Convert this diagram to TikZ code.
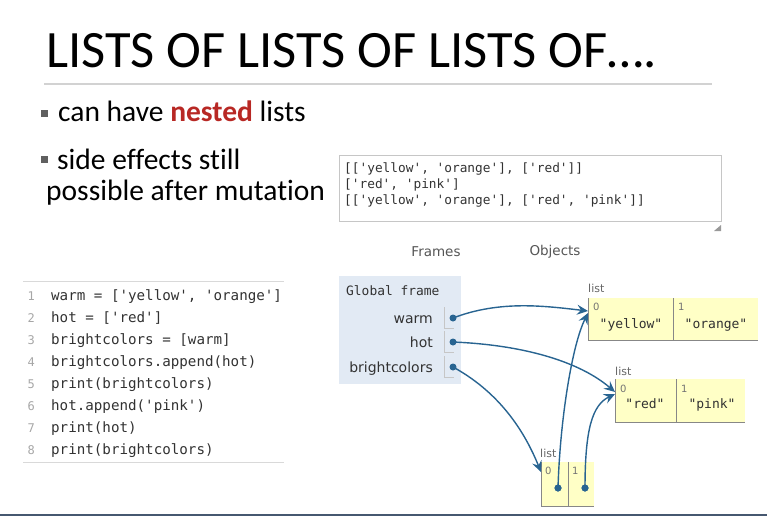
\documentclass[tikz,border=0pt]{standalone}
\usepackage{fontspec}
\setmainfont[Ligatures=NoCommon]{Carlito}
\newfontfamily\codefont{DejaVu Sans Mono}
\newfontfamily\verd{DejaVu Sans}
\usetikzlibrary{arrows.meta}
\definecolor{nestedred}{RGB}{184,40,36}
\definecolor{framebg}{RGB}{226,234,244}
\definecolor{cellbg}{RGB}{255,255,198}
\definecolor{cellline}{RGB}{135,135,135}
\definecolor{ptr}{RGB}{40,100,145}
\definecolor{bottomblue}{RGB}{70,88,112}
\definecolor{codegray}{RGB}{50,50,50}
\definecolor{headgray}{RGB}{85,85,85}
\tikzset{
  txt/.style={inner sep=0pt, anchor=base west},
  bigtxt/.style={txt, font=\fontsize{29.5}{30}\selectfont},
  outtxt/.style={txt, font=\codefont\fontsize{12.8}{16}\selectfont, text=codegray},
  codetxt/.style={txt, font=\codefont\fontsize{14.2}{18}\selectfont, text=codegray},
  lnum/.style={inner sep=0pt, anchor=base east, font=\codefont\fontsize{12}{14}\selectfont, text=gray!70},
  varname/.style={inner sep=0pt, anchor=base east, font=\verd\fontsize{14}{16}\selectfont, text=codegray},
  headtxt/.style={inner sep=0pt, font=\verd\fontsize{13.5}{16}\selectfont, text=headgray},
  cell/.style={fill=cellbg, inner sep=0pt, anchor=north west},
  idx/.style={inner sep=0pt, anchor=base west, font=\verd\fontsize{10}{12}\selectfont, text=gray!110},
  listlbl/.style={inner sep=0pt, anchor=base west, font=\verd\fontsize{11}{12}\selectfont, text=gray!120},
  val/.style={inner sep=0pt, anchor=base, font=\codefont\fontsize{13}{15}\selectfont, text=codegray},
  cellborder/.style={draw=cellline, line width=0.9pt},
  dotstyle/.style={circle, fill=ptr, inner sep=0pt, minimum size=7pt},
  ptrarrow/.style={draw=ptr, line width=1.4pt, -{Stealth[length=11pt,width=10pt,inset=4pt]}},
  sep/.style={draw=gray!45, line width=0.8pt},
  bulletsq/.style={fill=gray!75!black, inner sep=0pt, minimum size=7pt}
}
\begin{document}
\begin{tikzpicture}[x=1pt,y=-1pt]
\useasboundingbox (0,0) rectangle (767,517);

% Title
\node[txt, font=\fontsize{52.5}{53}\selectfont] (title) at (46,67) {LISTS OF LISTS OF LISTS OF….};
\draw[gray!35, line width=1.5pt] (44,84) -- (712,84);

% Bullets
\node[bulletsq] (b1) at (44,113) {};
\node[bigtxt] (t1) at (58,121) {can have \textbf{\color{nestedred}nested} lists};
\node[bulletsq] (b2) at (44,159) {};
\node[bigtxt] (t2) at (57,169) {side effects still};
\node[bigtxt] (t3) at (46,200) {possible after mutation};

% Output box
\node[draw=gray!45, line width=1pt, anchor=north west, inner sep=0pt,
      minimum width=382pt, minimum height=66pt] (out) at (339,155) {};
\node[outtxt] (o1) at (344,172) {[['yellow', 'orange'], ['red']]};
\node[outtxt] (o2) at (344,188) {['red', 'pink']};
\node[outtxt] (o3) at (344,204) {[['yellow', 'orange'], ['red', 'pink']]};
\fill[gray!80] (721,225) -- (721,231) -- (714,231) -- cycle;

% Headings
\node[headtxt] (frames) at (436,252) {Frames};
\node[headtxt] (objects) at (555,252) {Objects};

% Code listing
\draw[gray!30, line width=0.8pt] (23,281) -- (284,281);
\draw[gray!30, line width=0.8pt] (23,462) -- (284,462);
\foreach \i/\code in {1/{warm = ['yellow', 'orange']},
                      2/{hot = ['red']},
                      3/{brightcolors = [warm]},
                      4/{brightcolors.append(hot)},
                      5/{print(brightcolors)},
                      6/{hot.append('pink')},
                      7/{print(hot)},
                      8/{print(brightcolors)}}{
  \node[lnum] (n\i) at (35,{300+22.1*(\i-1)}) {\i};
  \node[codetxt] (c\i) at (51,{300+22.1*(\i-1)}) {\code};
}

% Global frame
\node[fill=framebg, anchor=north west, inner sep=0pt, minimum width=122pt, minimum height=108pt] (gf) at (339,276) {};
\node[txt, font=\codefont\fontsize{12.9}{15}\selectfont, text=codegray] (gft) at (346,295) {Global frame};
\node[varname] (vwarm) at (433,323) {warm};
\node[varname] (vhot) at (433,347) {hot};
\node[varname] (vbc) at (433,372) {brightcolors};
\foreach \y in {318,342,367}{
  \draw[sep] (444,\y-11) -- (444,\y+10) -- (454,\y+10);
}
\node[dotstyle] (dwarm) at (453,318) {};
\node[dotstyle] (dhot) at (453,342) {};
\node[dotstyle] (dbc) at (453,367) {};

% List 1: yellow / orange
\node[listlbl] (lab1) at (588,292) {list};
\node[cell, minimum width=85pt, minimum height=42pt] (l1a) at (588,298) {};
\node[cell, minimum width=85pt, minimum height=42pt] (l1b) at (673,298) {};
\draw[cellborder] (l1a.north west) -- (l1a.south west) -- (l1b.south east);
\draw[cellborder] (l1b.north west) -- (l1b.south west);
\node[idx] (i1a) at (593,310) {0};
\node[idx] (i1b) at (678,310) {1};
\node[val] (v1a) at (631,328) {"yellow"};
\node[val] (v1b) at (716,328) {"orange"};

% List 2: red / pink
\node[listlbl] (lab2) at (615,375) {list};
\node[cell, minimum width=61pt, minimum height=43pt] (l2a) at (615,379) {};
\node[cell, minimum width=69pt, minimum height=43pt] (l2b) at (676,379) {};
\draw[cellborder] (l2a.north west) -- (l2a.south west) -- (l2b.south east);
\draw[cellborder] (l2b.north west) -- (l2b.south west);
\node[idx] (i2a) at (620,392) {0};
\node[idx] (i2b) at (681,392) {1};
\node[val] (v2a) at (645,408) {"red"};
\node[val] (v2b) at (712,408) {"pink"};

% List 3: brightcolors
\node[listlbl] (lab3) at (540,457) {list};
\node[cell, minimum width=27pt, minimum height=44pt] (l3a) at (541,462) {};
\node[cell, minimum width=26pt, minimum height=44pt] (l3b) at (568,462) {};
\draw[cellborder] (l3a.north west) -- (l3a.south west) -- (l3b.south east);
\draw[cellborder] (l3b.north west) -- (l3b.south west);
\node[idx] (i3a) at (545,474) {0};
\node[idx] (i3b) at (572,474) {1};
\node[dotstyle] (d3a) at (558,488) {};
\node[dotstyle] (d3b) at (585,488) {};

% Pointers
\draw[ptrarrow] (dwarm.center) .. controls (500,300) and (545,306) .. ([yshift=-13pt]l1a.north west);
\draw[ptrarrow] (dhot.center) .. controls (525,345) and (580,362) .. ([yshift=-13pt]l2a.north west);
\draw[ptrarrow] (dbc.center) .. controls (495,390) and (522,425) .. ([yshift=-10pt]l3a.north west);
\draw[ptrarrow] (d3a.center) .. controls (560,420) and (572,345) .. ([yshift=-15pt]l1a.north west);
\draw[ptrarrow] (d3b.center) .. controls (585,430) and (592,405) .. ([yshift=-15pt]l2a.north west);
\node[dotstyle] at (d3a) {};
\node[dotstyle] at (d3b) {};

% Bottom rule
\draw[bottomblue, line width=2pt] (0,515) -- (767,515);
\end{tikzpicture}
\end{document}
